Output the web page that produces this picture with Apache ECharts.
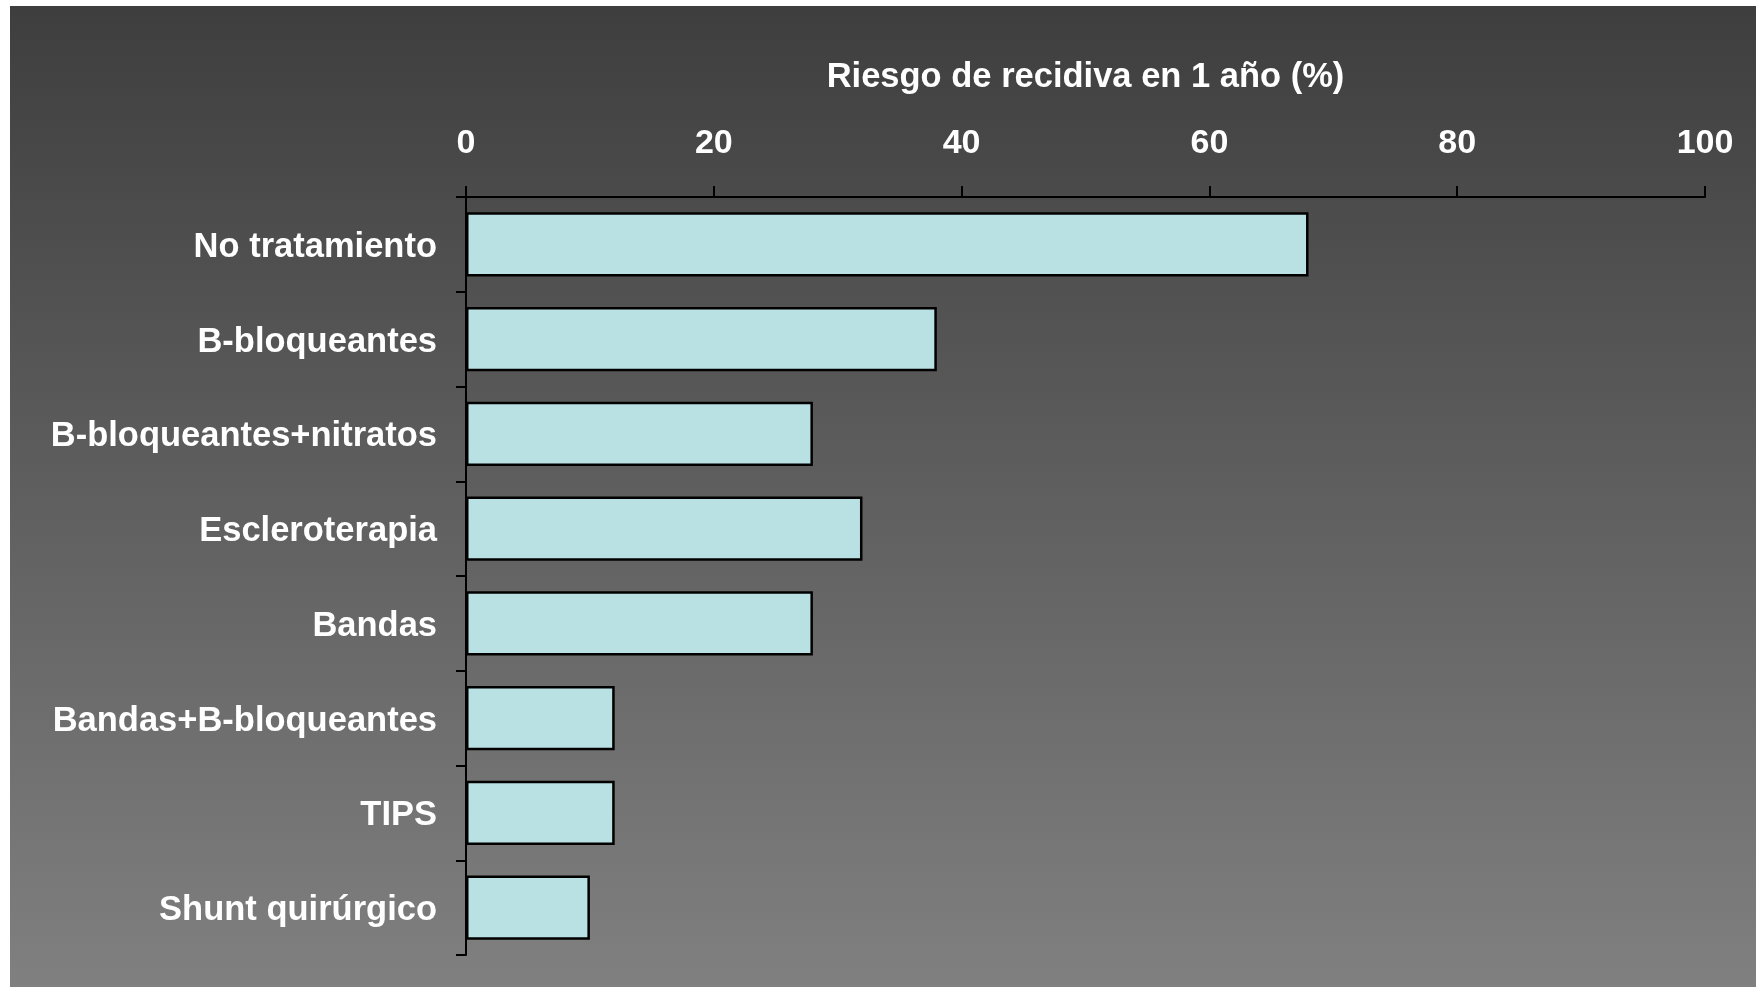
<!DOCTYPE html>
<html>
<head>
<meta charset="utf-8">
<script src="https://cdn.jsdelivr.net/npm/echarts@6/dist/echarts.min.js"></script>
<style>
  html, body { margin: 0; padding: 0; background: #ffffff; width: 1756px; height: 988px; overflow: hidden; }
  #chart { position: absolute; left: 10px; top: 6px; width: 1746px; height: 981px; }
</style>
</head>
<body>
<div id="chart"></div>
<script>
const categories = [
  'No tratamiento',
  'B-bloqueantes',
  'B-bloqueantes+nitratos',
  'Escleroterapia',
  'Bandas',
  'Bandas+B-bloqueantes',
  'TIPS',
  'Shunt quirúrgico'
];
const riesgo = [68, 38, 28, 32, 28, 12, 12, 10];
const axisTitle = 'Riesgo de recidiva en 1 año (%)';
const xTicks = { min: 0, max: 100, interval: 20 };

const chart = echarts.init(document.getElementById('chart'));
const fontFamily = '"Liberation Sans", Arial, sans-serif';
chart.setOption({
  animation: false,
  backgroundColor: {
    type: 'linear', x: 0, y: 0, x2: 0, y2: 1,
    colorStops: [
      { offset: 0, color: '#3e3e3e' },
      { offset: 1, color: '#808080' }
    ]
  },
  grid: { left: 456, top: 191, right: 51, bottom: 32, containLabel: false },
  xAxis: {
    type: 'value',
    position: 'top',
    min: xTicks.min, max: xTicks.max, interval: xTicks.interval,
    name: axisTitle,
    nameLocation: 'middle',
    nameGap: 102,
    nameTextStyle: { color: '#ffffff', fontSize: 34.5, fontWeight: 'bold', fontFamily },
    axisLine: { show: true, lineStyle: { color: '#000000', width: 2 } },
    axisTick: { show: true, inside: false, length: 11, lineStyle: { color: '#000000', width: 2 } },
    axisLabel: { color: '#ffffff', fontSize: 34, fontWeight: 'bold', fontFamily, margin: 36 },
    splitLine: { show: false }
  },
  yAxis: {
    type: 'category',
    inverse: true,
    data: categories,
    axisLine: { show: true, lineStyle: { color: '#000000', width: 2 } },
    axisTick: { show: true, inside: false, length: 10, alignWithLabel: false, lineStyle: { color: '#000000', width: 2 } },
    axisLabel: {
      margin: 29,
      formatter: '{a|{value}}',
      rich: {
        a: { color: '#ffffff', fontSize: 34.5, fontWeight: 'bold', fontFamily, padding: [6, 0, 0, 0] }
      }
    },
    splitLine: { show: false }
  },
  series: [{
    type: 'bar',
    data: riesgo,
    barCategoryGap: '32%',
    itemStyle: { color: '#b9e0e3', borderColor: '#000000', borderWidth: 2.5 }
  }]
});
</script>
</body>
</html>
